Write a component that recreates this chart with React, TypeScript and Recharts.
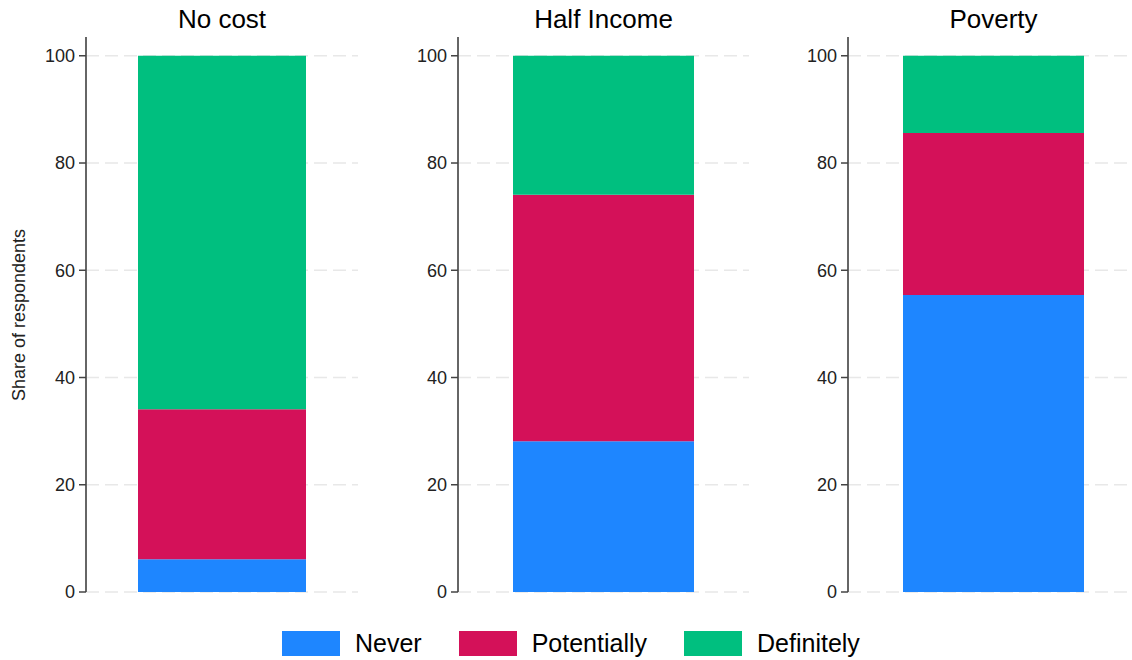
import React from 'react';
import { BarChart, Bar, XAxis, YAxis, CartesianGrid } from 'recharts';

const panels = ['No cost', 'Half Income', 'Poverty'];
const never = [6.1, 28.1, 55.4];
const potentially = [28.0, 46.0, 30.2];
const definitely = [65.9, 25.9, 14.4];
const yTicks = [0, 20, 40, 60, 80, 100];

const seriesNames = ['Never', 'Potentially', 'Definitely'];
const seriesColors = ['#1E86FF', '#D41159', '#00BF7F'];

// plot placement per panel: axis x, plot width, bar width, y-axis area width
const layout = [
  { axisX: 86, plotW: 272, barW: 168, yW: 86 },
  { axisX: 458, plotW: 291, barW: 181, yW: 70 },
  { axisX: 848, plotW: 291, barW: 181, yW: 70 },
];

const FONT = '"Liberation Sans", Arial, sans-serif';

function Panel({ idx }: { idx: number }) {
  const l = layout[idx];
  const data = [
    {
      name: panels[idx],
      Never: never[idx],
      Potentially: potentially[idx],
      Definitely: definitely[idx],
    },
  ];
  return (
    <div style={{ position: 'absolute', left: l.axisX - l.yW, top: 0 }}>
      <div
        style={{
          position: 'absolute',
          left: l.yW,
          width: l.plotW,
          top: 6,
          textAlign: 'center',
          fontSize: 26,
          lineHeight: '26px',
          color: '#000',
        }}
      >
        {panels[idx]}
      </div>
      <BarChart
        width={l.yW + l.plotW}
        height={612}
        data={data}
        margin={{ top: 37, right: 0, bottom: 20, left: 0 }}
      >
        <CartesianGrid
          vertical={false}
          syncWithTicks
          stroke="#e8e8e8"
          strokeWidth={1.5}
          strokeDasharray="13 6"
        />
        <XAxis dataKey="name" hide />
        <YAxis
          width={l.yW}
          domain={[0, 103.5]}
          ticks={yTicks}
          interval={0}
          tickSize={7}
          tickMargin={4}
          axisLine={{ stroke: '#666', strokeWidth: 2 }}
          tickLine={{ stroke: '#444', strokeWidth: 1.5 }}
          tick={{ fontSize: 18, fill: '#222' }}
        />
        {seriesNames.map((s, i) => (
          <Bar
            key={s}
            dataKey={s}
            stackId="a"
            fill={seriesColors[i]}
            barSize={l.barW}
            isAnimationActive={false}
          />
        ))}
      </BarChart>
    </div>
  );
}

export default function App() {
  return (
    <div
      style={{
        position: 'absolute',
        left: 0,
        top: 0,
        width: 1132,
        height: 660,
        overflow: 'hidden',
        background: '#fff',
        fontFamily: FONT,
      }}
    >
      {panels.map((p, i) => (
        <Panel key={p} idx={i} />
      ))}
      <div
        style={{
          position: 'absolute',
          left: 19 - 100,
          top: 315 - 11,
          width: 200,
          height: 22,
          lineHeight: '22px',
          textAlign: 'center',
          fontSize: 18,
          color: '#222',
          transform: 'rotate(-90deg)',
          whiteSpace: 'nowrap',
        }}
      >
        Share of respondents
      </div>
      <div
        style={{
          position: 'absolute',
          left: 282,
          top: 631,
          display: 'flex',
          alignItems: 'center',
          fontSize: 25,
          lineHeight: '25px',
          color: '#000',
        }}
      >
        {seriesNames.map((s, i) => (
          <div key={s} style={{ display: 'flex', alignItems: 'center', marginRight: 37 }}>
            <div style={{ width: 58, height: 25, background: seriesColors[i], marginRight: 15 }} />
            <span>{s}</span>
          </div>
        ))}
      </div>
    </div>
  );
}
